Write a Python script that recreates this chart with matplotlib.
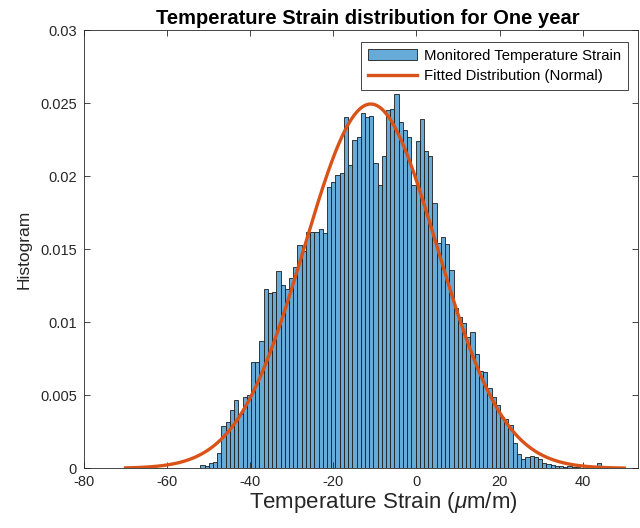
import numpy as np
import matplotlib
matplotlib.use("Agg")
import matplotlib.pyplot as plt

plt.rcParams["font.family"] = ["Liberation Sans", "DejaVu Sans"]
plt.rcParams["axes.unicode_minus"] = False
plt.rcParams["mathtext.fontset"] = "custom"
plt.rcParams["mathtext.rm"] = "Liberation Sans"
plt.rcParams["mathtext.it"] = "Liberation Sans:italic"

# Histogram of monitored temperature strain (pdf-normalised), 95 equal bins
bin_low = -52.0
bin_high = 44.46
density = [
    0.00023, 0.00016, 0.00034, 0.00043, 0.00107, 0.0029, 0.0032, 0.0040, 0.0047, 0.0037,
    0.0049, 0.0050, 0.0073, 0.0073, 0.0087, 0.01225, 0.0120, 0.0121, 0.0135, 0.01255,
    0.01225, 0.0130, 0.0138, 0.0153, 0.0149, 0.0162, 0.0162, 0.0162, 0.01636, 0.0161,
    0.01923, 0.0196, 0.0201, 0.02023, 0.02407, 0.02076, 0.02247, 0.0227, 0.0243, 0.02407,
    0.0241, 0.02088, 0.0194, 0.02138, 0.02453, 0.02457, 0.02562, 0.02373, 0.02316, 0.02266,
    0.0194, 0.0224, 0.02389, 0.0217, 0.0214, 0.01818, 0.01544, 0.01581, 0.01533, 0.01357,
    0.01095, 0.01034, 0.00997, 0.00901, 0.00931, 0.0078, 0.00666, 0.00657, 0.00548, 0.0049,
    0.00433, 0.00353, 0.0034, 0.00296, 0.00171, 0.00098, 0.00062, 0.0008, 0.00084, 0.0008,
    0.00062, 0.00034, 0.0003, 0.00023, 0.00018, 0.00016, 0.00012, 0.00016, 0.0001, 0.0001,
    0.00005, 0.0, 0.0, 0.0, 0.00039,
]

# Fitted normal distribution
fit_mean = -11.0
fit_std = 16.0
fit_range = (-70, 50)

x_ticks = [-80, -60, -40, -20, 0, 20, 40]
y_ticks = [0, 0.005, 0.01, 0.015, 0.02, 0.025, 0.03]

edges = np.linspace(bin_low, bin_high, len(density) + 1)
xs = np.linspace(fit_range[0], fit_range[1], 600)
pdf = np.exp(-0.5 * ((xs - fit_mean) / fit_std) ** 2) / (fit_std * np.sqrt(2 * np.pi))

ink = "#262626"
fig = plt.figure(figsize=(6.4, 5.28), dpi=100)
ax = fig.add_axes([84 / 640, 1 - 468.3 / 528, 554 / 640, 438.3 / 528])

bars = ax.bar(edges[:-1], density, width=np.diff(edges), align="edge",
              color="#66AAD7", edgecolor="#1c1c1c", linewidth=0.6)
line, = ax.plot(xs, pdf, color="#D95319", linewidth=2.4)

ax.set_xlim(-80, -80 + 554 / 4.156)
ax.set_ylim(0, 0.03)
ax.set_xticks(x_ticks)
ax.set_xticklabels([str(t) for t in x_ticks])
ax.set_yticks(y_ticks)
ax.set_yticklabels(["{:g}".format(t) for t in y_ticks])

for side in ["left", "right", "top", "bottom"]:
    ax.spines[side].set_color(ink)
    ax.spines[side].set_linewidth(0.6)
ax.tick_params(direction="in", length=4, width=0.6, colors=ink,
               labelsize=10.5, top=True, right=True, pad=5)

ax.set_title("Temperature Strain distribution for One year",
             fontsize=14.5, fontweight="bold", color="black", pad=4, x=0.512)
ax.set_xlabel(r"Temperature Strain ($\mu$m/m)", fontsize=16, color=ink, labelpad=0)
ax.xaxis.set_label_coords(0.54, -0.05, transform=ax.transAxes)
ax.xaxis.label.set_va("top")
ax.set_ylabel("Histogram", fontsize=12.5, color=ink, labelpad=6)

leg = ax.legend([bars, line],
                ["Monitored Temperature Strain", "Fitted Distribution (Normal)"],
                loc="upper right", bbox_to_anchor=(628 / 640, 1 - 42 / 528),
                bbox_transform=fig.transFigure, fontsize=10.7, frameon=True,
                fancybox=False, framealpha=1, edgecolor=ink,
                handlelength=3.3, handletextpad=0.5, borderpad=0.45,
                labelspacing=0.45, borderaxespad=0)
leg.get_frame().set_linewidth(0.6)

fig.savefig("out.png", dpi=100)
